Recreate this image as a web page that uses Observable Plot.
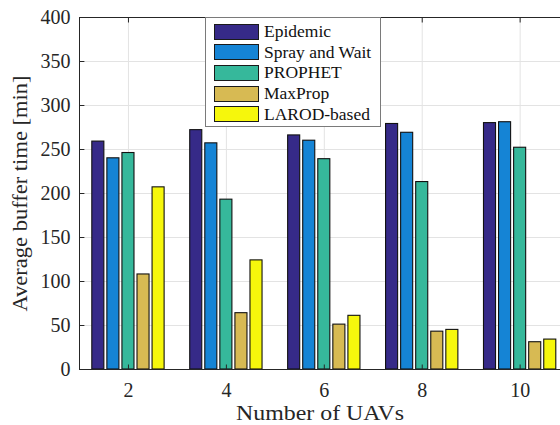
<!DOCTYPE html>
<html>
<head>
<meta charset="utf-8">
<script src="https://cdn.jsdelivr.net/npm/d3@7"></script>
<script src="https://cdn.jsdelivr.net/npm/@observablehq/plot@0.6"></script>
<style>
  body { margin: 0; background: #fff; overflow: hidden; }
  #chart { position: relative; width: 560px; height: 425px; overflow: hidden; }
  .legend {
    position: absolute; left: 205px; top: 17px; width: 176px; height: 110px;
    background: #fff; border: 1px solid #7a7a7a; box-sizing: border-box;
    font-family: "Liberation Serif", "Times New Roman", serif; font-size: 17.5px; color: #111;
  }
  .legend .row { position: absolute; left: 8px; height: 16px; display: flex; align-items: center; white-space: nowrap; }
  .legend .sw { width: 45px; height: 16px; border: 1px solid #1a1a1a; box-sizing: border-box; margin-right: 5px; flex: none; }
</style>
</head>
<body>
<div id="chart"></div>
<script>
// Number of UAVs on the x axis
const uavCounts = [2, 4, 6, 8, 10];

// Routing protocols, in legend / bar order
const protocols = ["Epidemic", "Spray and Wait", "PROPHET", "MaxProp", "LAROD-based"];

// Average buffer time [min] per protocol, one value per UAV count
const epidemic     = [259, 272, 266, 279, 280];
const sprayAndWait = [240, 257, 260, 269, 281];
const prophet      = [246, 193, 239, 213, 252];
const maxProp      = [108, 64, 51, 43, 31];
const larodBased   = [207, 124, 61, 45, 34];

// Parula-like bar colours
const colors = ["#362a88", "#1584d5", "#36b89b", "#d7ba53", "#f6f70c"];

const yTicks = [0, 50, 100, 150, 200, 250, 300, 350, 400];

const yLabel = "Average buffer time [min]";
const xLabel = "Number of UAVs";

const seriesValues = [epidemic, sprayAndWait, prophet, maxProp, larodBased];

// Grouped-bar geometry in x units (groups are 2 units apart)
const nSeries = protocols.length;
const groupWidth = 2 * Math.min(0.8, nSeries / (nSeries + 1.5));
const slot = groupWidth / nSeries;
const barHalf = 0.8 * slot / 2;

const rows = [];
protocols.forEach((name, i) => {
  seriesValues[i].forEach((v, j) => {
    rows.push({protocol: name, i, uavs: uavCounts[j], value: v});
  });
});
const center = d => d.uavs + (d.i - (nSeries - 1) / 2) * slot;

const axisColor = "#262626";
const gridColor = "#e3e3e3";
const tickLen = 400 * 5 / 352; // inward tick length in y units (~5px)

const plot = Plot.plot({
  width: 560,
  height: 425,
  marginLeft: 79,
  marginTop: 17,
  marginBottom: 56,
  marginRight: 0,
  style: {fontFamily: "'Liberation Serif', 'Times New Roman', serif", fontSize: "20px", color: axisColor, background: "#fff"},
  x: {domain: [1, 11], range: [79, 568.6], axis: null},
  y: {domain: [0, 400], axis: null},
  color: {domain: protocols, range: colors},
  marks: [
    Plot.gridY(yTicks, {stroke: gridColor, strokeOpacity: 1, strokeWidth: 1}),
    Plot.gridX(uavCounts, {stroke: gridColor, strokeOpacity: 1, strokeWidth: 1}),
    Plot.rect(rows, {
      x1: d => center(d) - barHalf,
      x2: d => center(d) + barHalf,
      y1: 0,
      y2: "value",
      fill: "protocol",
      stroke: "#111",
      strokeWidth: 1.1
    }),
    // inward ticks
    Plot.link(yTicks, {x1: 1, x2: 1.1, y1: d => d, y2: d => d, stroke: axisColor, strokeWidth: 1}),
    Plot.link(uavCounts, {x1: d => d, x2: d => d, y1: 0, y2: tickLen, stroke: axisColor, strokeWidth: 1}),
    Plot.link(uavCounts, {x1: d => d, x2: d => d, y1: 400 - tickLen, y2: 400, stroke: axisColor, strokeWidth: 1}),
    // box
    Plot.ruleY([0, 400], {stroke: axisColor, strokeWidth: 1}),
    Plot.ruleX([1], {stroke: axisColor, strokeWidth: 1}),
    Plot.axisY(yTicks, {tickSize: 0, tickPadding: 9, fontSize: 20, label: null, fill: axisColor}),
    Plot.axisX(uavCounts, {tickSize: 0, tickPadding: 13, fontSize: 20, label: null, fill: axisColor}),
    Plot.text([yLabel], {frameAnchor: "left", textAnchor: "middle", rotate: -90, dx: -59, dy: 0, fontSize: 21, fill: axisColor, lineAnchor: "middle"}),
    Plot.text([xLabel], {frameAnchor: "bottom", textAnchor: "middle", dy: 44, fontSize: 21, fill: axisColor, lineAnchor: "middle"})
  ]
});

// the axis titles are set slightly wide, as in the exported figure
plot.querySelectorAll("text").forEach(t => {
  if (t.textContent === xLabel) { t.setAttribute("textLength", 168); t.setAttribute("lengthAdjust", "spacingAndGlyphs"); }
  if (t.textContent === yLabel) { t.setAttribute("textLength", 236); t.setAttribute("lengthAdjust", "spacingAndGlyphs"); }
});

const chart = document.getElementById("chart");
chart.appendChild(plot);

// Legend box inside the plot area
const legend = document.createElement("div");
legend.className = "legend";
protocols.forEach((name, i) => {
  const row = document.createElement("div");
  row.className = "row";
  row.style.top = (5.5 + i * 20.7) + "px";
  const sw = document.createElement("span");
  sw.className = "sw";
  sw.style.background = colors[i];
  const label = document.createElement("span");
  label.textContent = name;
  row.appendChild(sw);
  row.appendChild(label);
  legend.appendChild(row);
});
chart.appendChild(legend);
</script>
</body>
</html>
